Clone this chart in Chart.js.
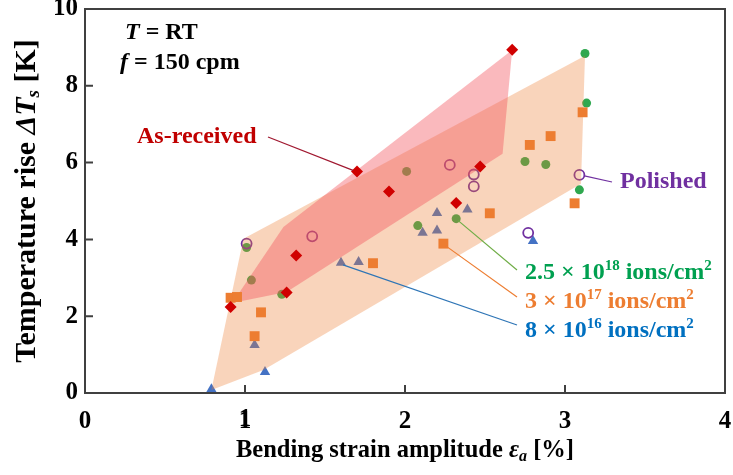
<!DOCTYPE html>
<html>
<head>
<meta charset="utf-8">
<script src="https://cdn.jsdelivr.net/npm/chart.js@4.4.1/dist/chart.umd.min.js"></script>
<style>
  html, body { margin: 0; padding: 0; background: #fff; }
  #wrap { width: 733px; height: 475px; position: relative; }
</style>
</head>
<body>
<div id="wrap"><canvas id="chart"></canvas></div>
<script>
// values: [strain amplitude %, temperature rise K]
const asReceived = [[0.91,2.24],[1.26,2.62],[1.32,3.58],[1.70,5.77],[1.90,5.25],[2.32,4.95],[2.47,5.90],[2.67,8.94]];
const polished = [[1.01,3.89],[1.42,4.08],[2.28,5.94],[2.43,5.69],[2.43,5.38],[2.77,4.17],[3.09,5.68]];
const ions25e18 = [[1.01,3.79],[1.04,2.94],[1.23,2.57],[2.01,5.77],[2.08,4.36],[2.32,4.54],[2.75,6.03],[2.88,5.95],[3.125,8.84],[3.135,7.55],[3.09,5.29]];
const ions3e17 = [[0.91,2.48],[0.95,2.50],[1.10,2.10],[1.06,1.48],[1.80,3.38],[2.24,3.89],[2.53,4.68],[2.78,6.46],[2.91,6.69],[3.11,7.31],[3.06,4.94]];
const ions8e16 = [[0.79,0.10],[1.06,1.25],[1.125,0.55],[1.60,3.39],[1.71,3.41],[2.11,4.17],[2.20,4.69],[2.20,4.23],[2.39,4.78],[2.80,3.96]];

// shaded scatter bands (outline corners)
const bandAsReceived = [[0.93,2.40],[1.24,4.32],[2.67,8.93],[2.61,6.23],[1.26,2.63],[0.95,2.37]];
const bandImplanted = [[0.79,0.08],[0.99,4.02],[3.125,8.78],[3.10,5.45],[1.115,0.60]];

const xTicks = [0, 1, 2, 3, 4];
const yTicks = [0, 2, 4, 6, 8, 10];

const toXY = arr => arr.map(p => ({x: p[0], y: p[1]}));
const SERIF = '"Liberation Serif", "Times New Roman", serif';

function drawRuns(ctx, runs, x, y) {
  // runs: [text, font, dy]
  let cx = x;
  ctx.textBaseline = 'middle';
  ctx.textAlign = 'left';
  runs.forEach(r => {
    ctx.font = r[1];
    ctx.fillText(r[0], cx, y + (r[2] || 0));
    cx += ctx.measureText(r[0]).width;
  });
  return cx - x;
}
function runsWidth(ctx, runs) {
  let w = 0;
  runs.forEach(r => { ctx.font = r[1]; w += ctx.measureText(r[0]).width; });
  return w;
}

const B = 'bold 24px ' + SERIF;
const BI = 'italic bold 24px ' + SERIF;
const SUP = 'bold 15px ' + SERIF;
const XT = 'bold 24.5px ' + SERIF;
const XTI = 'italic bold 24.5px ' + SERIF;
const YT = 'bold 30px ' + SERIF;
const YTI = 'italic bold 30px ' + SERIF;
const SUBI = 'italic bold 16px ' + SERIF;
const SUBY = 'italic bold 19px ' + SERIF;
const TICKF = 'bold 25px ' + SERIF;

const decorations = {
  id: 'decorations',
  afterDraw(chart) {
    const ctx = chart.ctx;
    const a = chart.chartArea;
    const xs = chart.scales.x, ys = chart.scales.y;
    ctx.save();

    // frame + inward ticks
    ctx.strokeStyle = '#404040';
    ctx.lineWidth = 2;
    ctx.strokeRect(a.left, a.top, a.right - a.left, a.bottom - a.top);
    ctx.beginPath();
    xTicks.slice(1, -1).forEach(v => {
      const px = xs.getPixelForValue(v);
      ctx.moveTo(px, a.bottom); ctx.lineTo(px, a.bottom - 8);
    });
    yTicks.slice(1, -1).forEach(v => {
      const py = ys.getPixelForValue(v);
      ctx.moveTo(a.left, py); ctx.lineTo(a.left + 8, py);
    });
    ctx.stroke();

    // the scale sometimes drops the "1" label, repaint it from the scale's tick
    ctx.fillStyle = '#000';
    ctx.font = TICKF;
    ctx.textAlign = 'center';
    ctx.textBaseline = 'top';
    xs.ticks.forEach(t => {
      if (t.value === 1) ctx.fillText(String(t.value), xs.getPixelForValue(t.value), a.bottom + 14);
    });

    // leader lines
    ctx.lineWidth = 1.2;
    const lead = (c, x1, y1, x2, y2) => {
      ctx.strokeStyle = c;
      ctx.beginPath(); ctx.moveTo(x1, y1); ctx.lineTo(x2, y2); ctx.stroke();
    };
    lead('#A01830', 268, 137, xs.getPixelForValue(1.70) - 4, ys.getPixelForValue(5.77) - 1);
    lead('#7030A0', xs.getPixelForValue(3.09) + 5, ys.getPixelForValue(5.68) + 1, 612, 182);
    lead('#70AD47', xs.getPixelForValue(2.32) + 2, ys.getPixelForValue(4.54) + 2, 517, 270);
    lead('#ED7D31', xs.getPixelForValue(2.24) + 2, ys.getPixelForValue(3.89) + 2, 517, 297);
    lead('#2E75B6', xs.getPixelForValue(1.60) + 2, ys.getPixelForValue(3.39) + 2, 517, 325);

    // labels
    ctx.fillStyle = '#000';
    drawRuns(ctx, [['T', BI], [' = RT', B]], 125, 33);
    drawRuns(ctx, [['f', BI], [' = 150 cpm', B]], 120, 63);
    ctx.fillStyle = '#C00000';
    drawRuns(ctx, [['As-received', B]], 137, 137);
    ctx.fillStyle = '#7030A0';
    drawRuns(ctx, [['Polished', B]], 620, 182);
    ctx.fillStyle = '#00A050';
    drawRuns(ctx, [['2.5 × 10', B], ['18', SUP, -7], [' ions/cm', B], ['2', SUP, -7]], 525, 273);
    ctx.fillStyle = '#ED7D31';
    drawRuns(ctx, [['3 × 10', B], ['17', SUP, -7], [' ions/cm', B], ['2', SUP, -7]], 525, 302);
    ctx.fillStyle = '#0070C0';
    drawRuns(ctx, [['8 × 10', B], ['16', SUP, -7], [' ions/cm', B], ['2', SUP, -7]], 525, 331);

    // axis titles
    ctx.fillStyle = '#000';
    const xt = [['Bending strain amplitude ', XT], ['ε', XTI], ['a', SUBI, 6], [' [%]', XT]];
    drawRuns(ctx, xt, (a.left + a.right) / 2 - runsWidth(ctx, xt) / 2, 451);
    const yt = [['Temperature rise ', YT], ['ΔT', YTI], ['s', SUBY, 7], [' [K]', YT]];
    ctx.translate(27, (a.top + a.bottom) / 2);
    ctx.rotate(-Math.PI / 2);
    drawRuns(ctx, yt, -runsWidth(ctx, yt) / 2, 0);
    ctx.restore();
  }
};

const tickFont = {family: SERIF, size: 25, weight: 'bold'};

new Chart(document.getElementById('chart'), {
  type: 'scatter',
  data: {
    datasets: [
      {label: '8e16', data: toXY(ions8e16), pointStyle: 'triangle', pointRadius: 6,
       backgroundColor: '#4472C4', borderWidth: 0, order: 6},
      {label: '2.5e18', data: toXY(ions25e18), pointStyle: 'circle', pointRadius: 4.5,
       backgroundColor: '#2FA84F', borderWidth: 0, order: 5},
      {label: 'Polished', data: toXY(polished), pointStyle: 'circle', pointRadius: 5,
       backgroundColor: 'rgba(0,0,0,0)', borderColor: '#7030A0', borderWidth: 1.8, order: 4},
      {label: 'band implanted', data: toXY(bandImplanted), showLine: true, fill: 'shape',
       backgroundColor: 'rgba(237,125,49,0.33)', borderWidth: 0, pointRadius: 0, order: 3},
      {label: 'band as-received', data: toXY(bandAsReceived), showLine: true, fill: 'shape',
       backgroundColor: 'rgba(242,80,90,0.40)', borderWidth: 0, pointRadius: 0, order: 2},
      {label: '3e17', data: toXY(ions3e17), pointStyle: 'rect', pointRadius: 7,
       backgroundColor: '#ED7D31', borderWidth: 0, order: 1},
      {label: 'As-received', data: toXY(asReceived), pointStyle: 'rectRot', pointRadius: 6,
       backgroundColor: '#D00000', borderWidth: 0, order: 0}
    ]
  },
  options: {
    responsive: true,
    maintainAspectRatio: false,
    animation: false,
    layout: {padding: {top: 9, right: 8, left: 0, bottom: 0}},
    plugins: {legend: {display: false}, tooltip: {enabled: false}},
    scales: {
      x: {
        min: 0, max: 4,
        afterFit: s => { s.height = 82; s.paddingLeft = 0; s.paddingRight = 0; },
        grid: {display: false, drawTicks: false},
        border: {display: false},
        ticks: {font: tickFont, color: '#000', padding: 14, maxRotation: 0, minRotation: 0,
                autoSkip: false, stepSize: 1, callback: v => String(v)}
      },
      y: {
        min: 0, max: 10,
        afterFit: s => { s.width = 85; s.paddingTop = 0; s.paddingBottom = 0; },
        grid: {display: false, drawTicks: false},
        border: {display: false},
        ticks: {font: tickFont, color: '#000', padding: 7, autoSkip: false, stepSize: 2,
                callback: v => String(v)}
      }
    }
  },
  plugins: [decorations]
});
</script>
</body>
</html>
